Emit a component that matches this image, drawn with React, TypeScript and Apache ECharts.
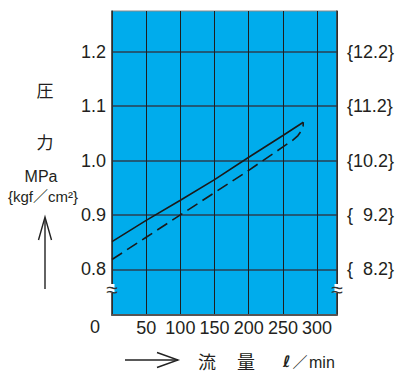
import React, { useEffect, useRef } from "react";
import * as echarts from "echarts";

// Flow (l/min) vs pressure (MPa)
const solidX = [0, 50, 100, 150, 200, 250, 279.8];
const solidY = [0.851, 0.89, 0.927, 0.965, 1.006, 1.046, 1.0705];
const dashX = [0, 50, 100, 150, 200, 250, 265, 272, 277, 279.5, 279.8];
const dashY = [0.818, 0.859, 0.9, 0.941, 0.982, 1.025, 1.038, 1.046, 1.055, 1.063, 1.0705];

const xTickValues = [50, 100, 150, 200, 250, 300];
const yTickValues = [0.8, 0.9, 1.0, 1.1, 1.2];
const yLeftLabels = ["0.8", "0.9", "1.0", "1.1", "1.2"];
const yRightLabels = ["{  8.2}", "{  9.2}", "{10.2}", "{11.2}", "{12.2}"];

const FONT = "'Liberation Sans', Arial, 'Noto Sans CJK JP', sans-serif";
const CJK = "'Noto Sans CJK JP', sans-serif";
const TXT = "#231f20";

export default function App() {
  const ref = useRef<HTMLDivElement>(null);
  useEffect(() => {
    if (!ref.current) return;
    const chart = echarts.init(ref.current, null, { renderer: "svg" });
    const yLabel = (arr: string[]) => (v: number) => {
      const i = yTickValues.findIndex((t) => Math.abs(t - v) < 1e-6);
      return i >= 0 ? arr[i] : "";
    };
    chart.setOption({
      animation: false,
      grid: {
        left: 112,
        right: 60,
        top: 11,
        bottom: 59,
        show: true,
        backgroundColor: "#00acec",
        borderColor: "#8a8a8a",
        borderWidth: 1,
      },
      xAxis: {
        type: "value",
        min: 0,
        max: 329,
        interval: 50,
        axisLine: { show: true, lineStyle: { color: "#555", width: 2 } },
        axisTick: { show: false },
        splitLine: { show: true, lineStyle: { color: "#1e1e1e", width: 1 } },
        axisLabel: {
          fontSize: 18,
          fontFamily: FONT,
          color: TXT,
          margin: 4,
          formatter: (v: number) => (xTickValues.includes(v) ? String(v) : ""),
        },
      },
      yAxis: [
        {
          type: "value",
          min: 0.716,
          max: 1.275,
          position: "left",
          axisLine: { show: true, lineStyle: { color: "#333", width: 1.5 } },
          axisTick: { show: false, customValues: yTickValues },
          splitLine: { show: true, lineStyle: { color: "#1f5a78", width: 1.8 } },
          axisLabel: {
            customValues: yTickValues,
            fontSize: 18,
            fontFamily: FONT,
            color: TXT,
            margin: 6,
            formatter: yLabel(yLeftLabels),
          },
        },
        {
          type: "value",
          min: 0.716,
          max: 1.275,
          position: "right",
          axisLine: { show: true, lineStyle: { color: "#333", width: 1.5 } },
          axisTick: { show: false, customValues: yTickValues },
          splitLine: { show: false },
          axisLabel: {
            customValues: yTickValues,
            fontSize: 18,
            fontFamily: FONT,
            color: TXT,
            margin: 10,
            formatter: yLabel(yRightLabels),
          },
        },
      ],
      series: [
        {
          type: "line",
          data: solidX.map((x, i) => [x, solidY[i]]),
          showSymbol: false,
          lineStyle: { color: "#1a1a1a", width: 1.6 },
          z: 5,
        },
        {
          type: "line",
          data: dashX.map((x, i) => [x, dashY[i]]),
          showSymbol: false,
          lineStyle: { color: "#1a1a1a", width: 1.6, type: [12, 6] },
          z: 5,
        },
      ],
      graphic: [
        // "0" origin label
        { type: "text", x: 95, y: 327, style: { text: "0", font: `18px ${FONT}`, fill: TXT, align: "center", verticalAlign: "middle" } },
        // break marks
        { type: "rect", shape: { x: 109.5, y: 284, width: 5, height: 9 }, style: { fill: "#fff" }, z: 20 },
        { type: "rect", shape: { x: 334.5, y: 284, width: 5, height: 9 }, style: { fill: "#fff" }, z: 20 },
        { type: "text", x: 112, y: 289, z: 21, style: { text: "≈", font: `21px ${FONT}`, fill: "#333", align: "center", verticalAlign: "middle" } },
        { type: "text", x: 337, y: 289, z: 21, style: { text: "≈", font: `21px ${FONT}`, fill: "#333", align: "center", verticalAlign: "middle" } },
        // left title
        { type: "text", x: 45, y: 89, style: { text: "圧", font: `17px ${CJK}`, fill: TXT, align: "center", verticalAlign: "middle" } },
        { type: "text", x: 45, y: 141, style: { text: "力", font: `17px ${CJK}`, fill: TXT, align: "center", verticalAlign: "middle" } },
        { type: "text", x: 41, y: 176, style: { text: "MPa", font: `16px ${FONT}`, fill: TXT, align: "center", verticalAlign: "middle" } },
        { type: "text", x: 43, y: 196, style: { text: "{kgf／cm²}", font: `15px ${FONT}`, fill: TXT, align: "center", verticalAlign: "middle" } },
        { type: "line", shape: { x1: 45, y1: 289, x2: 45, y2: 218 }, style: { stroke: "#222", lineWidth: 1.4 } },
        { type: "polyline", shape: { points: [[38.5, 240], [45, 217], [51.5, 240]] }, style: { stroke: "#222", lineWidth: 1.4, fill: null } },
        // bottom title
        { type: "line", shape: { x1: 125, y1: 360, x2: 178, y2: 360 }, style: { stroke: "#222", lineWidth: 1.4 } },
        { type: "polyline", shape: { points: [[157, 352.5], [178, 360], [157, 367.5]] }, style: { stroke: "#222", lineWidth: 1.4, fill: null } },
        { type: "text", x: 207, y: 361, style: { text: "流", font: `18px ${CJK}`, fill: TXT, align: "center", verticalAlign: "middle" } },
        { type: "text", x: 246, y: 361, style: { text: "量", font: `18px ${CJK}`, fill: TXT, align: "center", verticalAlign: "middle" } },
        { type: "text", x: 283, y: 361, style: { text: "ℓ", font: `bold italic 16px 'DejaVu Sans', sans-serif`, fill: TXT, align: "left", verticalAlign: "middle" } },
        { type: "text", x: 300, y: 361, style: { text: "／", font: `15px ${CJK}`, fill: TXT, align: "center", verticalAlign: "middle" } },
        { type: "text", x: 309, y: 362, style: { text: "min", font: `16px ${FONT}`, fill: TXT, align: "left", verticalAlign: "middle" } },
      ],
    });
    return () => chart.dispose();
  }, []);
  return <div ref={ref} style={{ width: 397, height: 374, position: "absolute", left: 0, top: 0 }} />;
}
